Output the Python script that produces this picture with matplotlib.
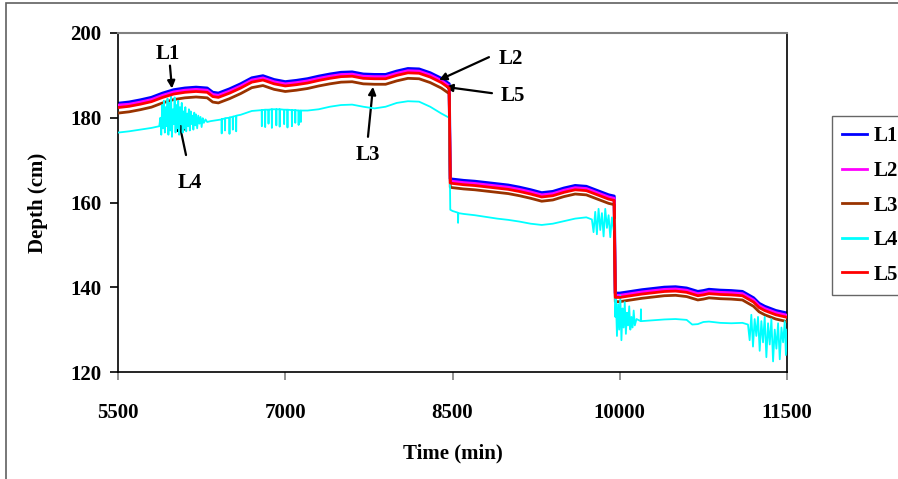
import matplotlib
matplotlib.use("Agg")
import matplotlib.pyplot as plt
from matplotlib.patches import Rectangle

# ---------------- data ----------------
time = [5500, 5600, 5700, 5800, 5900, 6000, 6100, 6200, 6300, 6350,
        6400, 6450, 6500, 6600, 6700, 6800, 6900, 7000, 7100, 7200,
        7300, 7400, 7500, 7600, 7700, 7800, 7900, 8000, 8100, 8200,
        8300, 8400, 8470, 8480, 8500, 8600, 8700, 8800, 8900, 9000,
        9100, 9200, 9300, 9400, 9500, 9600, 9700, 9800, 9900, 9950,
        9960, 10000, 10100, 10200, 10300, 10400, 10500, 10600, 10700, 10750,
        10800, 10900, 11000, 11100, 11200, 11250, 11300, 11400, 11500]

L1 = [183.4, 183.7, 184.2, 184.8, 185.8, 186.6, 187.0, 187.2, 187.0, 186.0,
      185.8, 186.3, 186.8, 188.0, 189.4, 189.9, 189.0, 188.5, 188.8, 189.2,
      189.8, 190.3, 190.7, 190.8, 190.3, 190.2, 190.2, 191.0, 191.6, 191.5,
      190.6, 189.3, 188.0, 165.6, 165.5, 165.2, 165.0, 164.7, 164.4, 164.1,
      163.6, 163.0, 162.3, 162.6, 163.4, 164.0, 163.8, 162.8, 161.8, 161.5,
      138.6, 138.6, 139.0, 139.4, 139.7, 140.0, 140.1, 139.8, 139.0, 139.2,
      139.5, 139.3, 139.2, 139.0, 137.5, 136.2, 135.5, 134.5, 133.9]

L2 = [183.0, 183.2, 183.7, 184.3, 185.3, 186.1, 186.5, 186.7, 186.5, 185.5,
      185.3, 185.8, 186.3, 187.5, 188.9, 189.4, 188.5, 188.0, 188.3, 188.7,
      189.3, 189.8, 190.2, 190.3, 189.8, 189.7, 189.7, 190.5, 191.1, 191.0,
      190.1, 188.8, 187.5, 165.1, 165.0, 164.7, 164.5, 164.2, 163.9, 163.6,
      163.1, 162.5, 161.8, 162.1, 162.9, 163.5, 163.3, 162.3, 161.3, 161.0,
      138.1, 138.1, 138.5, 138.9, 139.2, 139.5, 139.6, 139.3, 138.5, 138.7,
      139.0, 138.8, 138.7, 138.5, 137.0, 135.7, 135.0, 134.0, 133.4]

L3 = [181.1, 181.4, 181.9, 182.5, 183.5, 184.3, 184.7, 184.9, 184.7, 183.7,
      183.5, 184.0, 184.5, 185.7, 187.1, 187.6, 186.7, 186.2, 186.5, 186.9,
      187.5, 188.0, 188.4, 188.5, 188.0, 187.9, 187.9, 188.7, 189.3, 189.2,
      188.3, 187.0, 185.7, 163.6, 163.5, 163.2, 163.0, 162.7, 162.4, 162.1,
      161.6, 161.0, 160.3, 160.6, 161.4, 162.0, 161.8, 160.8, 159.8, 159.5,
      136.6, 136.6, 137.0, 137.4, 137.7, 138.0, 138.1, 137.8, 137.0, 137.2,
      137.5, 137.3, 137.2, 137.0, 135.5, 134.2, 133.5, 132.5, 131.9]

L5 = [182.4, 182.7, 183.2, 183.8, 184.8, 185.6, 186.0, 186.2, 186.0, 185.0,
      184.8, 185.3, 185.8, 187.0, 188.4, 188.9, 188.0, 187.5, 187.8, 188.2,
      188.8, 189.3, 189.7, 189.8, 189.3, 189.2, 189.2, 190.0, 190.6, 190.5,
      189.6, 188.3, 187.0, 164.6, 164.5, 164.2, 164.0, 163.7, 163.4, 163.1,
      162.6, 162.0, 161.3, 161.6, 162.4, 163.0, 162.8, 161.8, 160.8, 160.5,
      137.6, 137.6, 138.0, 138.4, 138.7, 139.0, 139.1, 138.8, 138.0, 138.2,
      138.5, 138.3, 138.2, 138.0, 136.5, 135.2, 134.5, 133.5, 132.9]

L4_time = [5500, 5600, 5700, 5800, 5870,
           5880, 5888, 5896, 5904, 5912, 5920, 5928, 5936, 5944, 5952,
           5960, 5968, 5976, 5984, 5992, 6000, 6008, 6016, 6024, 6032,
           6040, 6048, 6056, 6064, 6072, 6080, 6088, 6096, 6104, 6112,
           6120, 6128, 6136, 6144, 6152, 6160, 6168, 6176, 6184, 6192,
           6200, 6210, 6220, 6230, 6240, 6250, 6260, 6270, 6285, 6300, 6330,
           6400, 6428, 6430, 6432, 6458, 6460, 6462, 6498, 6500, 6502,
           6528, 6530, 6532, 6558, 6560, 6562, 6600, 6700,
           6788, 6790, 6792, 6818, 6820, 6822, 6848, 6850, 6852, 6878, 6880, 6882,
           6918, 6920, 6922, 6948, 6950, 6952, 6988, 6990, 6992, 7018, 7020, 7022,
           7058, 7060, 7062, 7088, 7090, 7092, 7118, 7120, 7122, 7138, 7140, 7142,
           7200, 7300, 7400, 7500, 7600, 7700,
           7800, 7900, 8000, 8100, 8200, 8300, 8400, 8470,
           8480, 8500, 8548, 8550, 8552, 8600, 8700, 8800, 8900, 9000,
           9100, 9200, 9300, 9400, 9500, 9600, 9700, 9750,
           9765, 9780, 9795, 9810, 9825, 9840, 9855, 9870, 9885, 9900,
           9915, 9930, 9945, 9955,
           9960, 9965, 9975, 9985, 9995, 10005, 10015, 10025, 10035, 10045,
           10055, 10065, 10075, 10085, 10095, 10105, 10115, 10125, 10135, 10150,
           10188, 10190, 10192, 10300, 10400, 10500, 10600, 10650, 10700, 10750,
           10800, 10900, 11000, 11100, 11150,
           11165, 11180, 11195, 11210, 11225, 11240, 11255, 11270, 11285, 11300,
           11315, 11330, 11345, 11360, 11375, 11390, 11405, 11420, 11435, 11450,
           11465, 11480, 11490, 11500]

L4 = [176.5, 176.8, 177.2, 177.6, 178.0,
      180.0, 176.0, 183.0, 177.5, 184.0, 176.5, 182.5, 178.0, 184.5, 176.0,
      183.5, 177.0, 185.0, 175.5, 182.0, 178.5, 184.8, 176.5, 183.0, 177.5,
      184.0, 176.0, 182.5, 178.5, 183.5, 176.5, 181.5, 177.5, 182.5, 176.8,
      181.0, 178.0, 182.0, 177.0, 181.5, 178.5, 180.5, 177.2, 181.2, 178.2,
      180.8, 177.5, 180.5, 178.6, 180.2, 177.8, 179.9, 178.8, 179.6, 179.0, 179.2,
      179.5, 179.6, 176.3, 179.7, 179.8, 177.0, 179.9, 180.0, 176.2, 180.1,
      180.2, 177.2, 180.3, 180.4, 176.8, 180.5, 180.7, 181.6,
      181.8, 178.0, 181.8, 181.9, 177.8, 181.9, 181.9, 178.6, 181.9, 182.0, 177.6, 182.0,
      182.0, 178.2, 182.0, 182.0, 177.9, 182.0, 181.9, 178.5, 181.9, 181.9, 177.7, 181.9,
      181.8, 178.0, 181.8, 181.8, 178.8, 181.8, 181.7, 178.3, 181.7, 181.7, 179.0, 181.7,
      181.7, 182.0, 182.6, 183.0, 183.1, 182.6,
      182.2, 182.6, 183.5, 183.9, 183.8, 182.6, 181.0, 180.0,
      158.3, 158.0, 157.6, 155.2, 157.5, 157.3, 157.0, 156.6, 156.2, 155.9,
      155.5, 155.0, 154.7, 155.0, 155.6, 156.2, 156.5, 156.0,
      153.0, 157.8, 152.5, 158.5, 153.5, 157.5, 152.0, 158.5, 154.0, 157.0,
      151.8, 156.5, 153.5, 156.0,
      133.0, 137.5, 128.5, 136.0, 130.0, 138.0, 127.5, 135.0, 130.5, 136.5,
      129.0, 134.0, 131.0, 135.5, 130.0, 133.0, 130.5, 134.5, 131.0, 132.5,
      132.0, 134.8, 132.0, 132.2, 132.4, 132.5, 132.3, 131.2, 131.3, 131.8,
      131.9, 131.6, 131.5, 131.6, 131.2,
      127.5, 133.5, 126.0, 132.5, 128.5, 133.0, 125.0, 132.0, 127.0, 133.0,
      123.5, 131.5, 126.5, 132.5, 122.5, 130.0, 125.5, 131.5, 123.0, 130.5,
      127.0, 132.0, 124.0, 130.0]

x_ticks = [5500, 7000, 8500, 10000, 11500]
y_ticks = [120, 140, 160, 180, 200]
series_names = ["L1", "L2", "L3", "L4", "L5"]
colors = ["#0000FF", "#FF00FF", "#993300", "#00FFFF", "#FF0000"]

# ---------------- figure ----------------
W, H = 898, 479
fig = plt.figure(figsize=(W / 100, H / 100), dpi=100)
FONT = "Liberation Serif"
FS = 15

ax = fig.add_axes([118 / W, 1 - 372 / H, (787 - 118) / W, (372 - 33) / H])

ax.plot(time, L1, color=colors[0], lw=2.2, label=series_names[0], zorder=2)
ax.plot(time, L2, color=colors[1], lw=2.0, label=series_names[1], zorder=3)
ax.plot(time, L3, color=colors[2], lw=2.0, label=series_names[2], zorder=4)
ax.plot(L4_time, L4, color=colors[3], lw=1.3, label=series_names[3], zorder=5)
ax.plot(time, L5, color=colors[4], lw=2.0, label=series_names[4], zorder=6)

ax.set_xlim(5500, 11500)
ax.set_ylim(120, 200)
ax.set_xticks(x_ticks)
ax.set_yticks(y_ticks)
ax.set_xticklabels([str(v) for v in x_ticks], fontfamily=FONT, fontweight="bold", fontsize=FS)
ax.set_yticklabels([str(v) for v in y_ticks], fontfamily=FONT, fontweight="bold", fontsize=FS)
ax.tick_params(axis="x", direction="out", length=6, width=1.2, color="#808080", pad=16)
ax.tick_params(axis="y", direction="out", length=6, width=1.2, color="black", pad=6)

for side in ["left", "bottom", "right"]:
    ax.spines[side].set_color("black")
    ax.spines[side].set_linewidth(1.2)
ax.spines["top"].set_color("#808080")
ax.spines["top"].set_linewidth(1.5)

ax.set_xlabel("Time (min)", fontfamily=FONT, fontweight="bold", fontsize=FS, labelpad=15)
ax.set_ylabel("Depth (cm)", fontfamily=FONT, fontweight="bold", fontsize=FS, labelpad=16)

# annotations
arrow_kw = dict(arrowstyle="-|>", color="black", lw=1.6, mutation_scale=11,
                shrinkA=0, shrinkB=0)
txt_kw = dict(fontfamily=FONT, fontweight="bold", fontsize=FS, ha="center", va="center")

ax.text(5948, 195.0, "L1", **txt_kw)
ax.annotate("", xy=(5984, 186.9), xytext=(5966, 192.3), arrowprops=arrow_kw)
ax.text(6146, 164.6, "L4", **txt_kw)
ax.annotate("", xy=(6047, 179.0), xytext=(6110, 171.2), arrowprops=arrow_kw)
ax.text(7742, 171.2, "L3", **txt_kw)
ax.annotate("", xy=(7787, 187.3), xytext=(7742, 175.5), arrowprops=arrow_kw)
ax.text(9025, 193.9, "L2", **txt_kw)
ax.annotate("", xy=(8379, 188.9), xytext=(8827, 194.3), arrowprops=arrow_kw)
ax.text(9040, 185.1, "L5", **txt_kw)
ax.annotate("", xy=(8433, 187.3), xytext=(8854, 185.8), arrowprops=arrow_kw)

# legend
leg = fig.legend(loc="upper left", bbox_to_anchor=(832 / W, 1 - 116 / H),
                 bbox_transform=fig.transFigure, borderaxespad=0,
                 prop=dict(family=FONT, weight="bold", size=FS),
                 frameon=True, fancybox=False, handlelength=1.2,
                 handletextpad=0.3, labelspacing=0.7, borderpad=0.5)
leg.get_frame().set_edgecolor("#404040")
leg.get_frame().set_linewidth(1.0)
for line in leg.get_lines():
    line.set_linewidth(2.0)

# outer chart border (extends past the right and bottom edges)
fig.patches.append(Rectangle((6 / W, -0.1), 1.2, 1 - 3 / H + 0.1,
                             transform=fig.transFigure, fill=False,
                             edgecolor="#606060", linewidth=1.2))

fig.savefig("out.png", dpi=100)
